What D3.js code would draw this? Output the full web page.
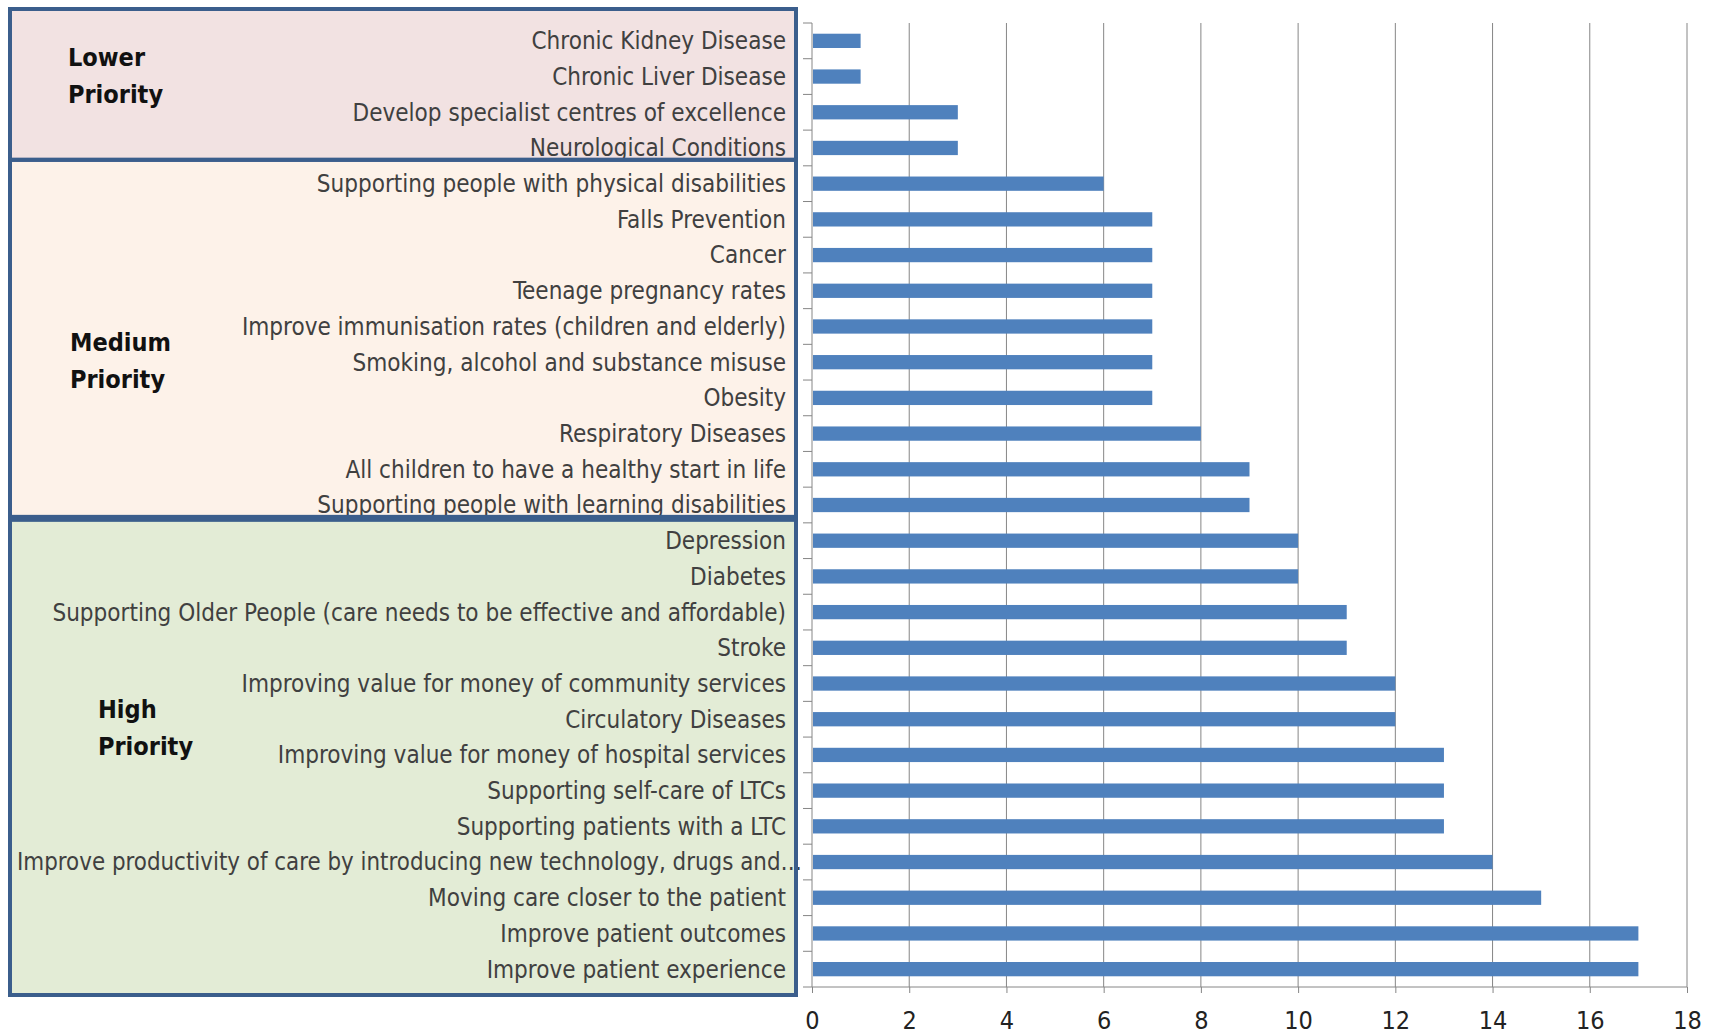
<!DOCTYPE html>
<html>
<head>
  <meta charset="utf-8">
  <title>Priorities</title>
  <script src="https://d3js.org/d3.v7.min.js"></script>
  <style>
    body { margin: 0; background: #fff; }
    text { font-family: "Liberation Sans Narrow", "DejaVu Sans Condensed", "Open Sans", sans-serif; }
  </style>
</head>
<body>
  <div id="chart"></div>
  <script>
    // categories, top to bottom
    const categories = [
      "Chronic Kidney Disease",
      "Chronic Liver Disease",
      "Develop specialist centres of excellence",
      "Neurological Conditions",
      "Supporting people with physical disabilities",
      "Falls Prevention",
      "Cancer",
      "Teenage pregnancy rates",
      "Improve immunisation rates (children and elderly)",
      "Smoking, alcohol and substance misuse",
      "Obesity",
      "Respiratory Diseases",
      "All children to have a healthy start in life",
      "Supporting people with learning disabilities",
      "Depression",
      "Diabetes",
      "Supporting Older People (care needs to be effective and affordable)",
      "Stroke",
      "Improving value for money of community services",
      "Circulatory Diseases",
      "Improving value for money of hospital services",
      "Supporting self-care of LTCs",
      "Supporting patients with a LTC",
      "Improve productivity of care by introducing new technology, drugs and\u2026",
      "Moving care closer to the patient",
      "Improve patient outcomes",
      "Improve patient experience"
    ];
    const values = [1, 1, 3, 3, 6, 7, 7, 7, 7, 7, 7, 8, 9, 9, 10, 10, 11, 11, 12, 12, 13, 13, 13, 14, 15, 17, 17];
    const xTicks = [0, 2, 4, 6, 8, 10, 12, 14, 16, 18];

    // priority groups: label lines and number of categories in each
    const groupNames = [["Lower", "Priority"], ["Medium", "Priority"], ["High", "Priority"]];
    const groupSizes = [4, 10, 13];
    const groupFills = ["#f2e2e2", "#fdf2e9", "#e3ecd6"];

    const W = 1710, H = 1034;
    const margin = {top: 23, right: 23, bottom: 47, left: 812};

    const svg = d3.select("#chart").append("svg")
      .attr("width", W).attr("height", H);

    const x = d3.scaleLinear().domain([0, 18]).range([margin.left, W - margin.right]);
    const y = d3.scaleBand().domain(categories)
      .range([margin.top, H - margin.bottom]).paddingInner(0.6).paddingOuter(0.3);
    const step = y.step();
    const bandTop = i => margin.top + i * step;

    // group boxes (fill layer)
    const boxes = [];
    let start = 0;
    groupSizes.forEach((n, g) => {
      const top = g === 0 ? 9 : bandTop(start) - 6 + (g === 2 ? 3 : 0);
      const bottom = g === groupSizes.length - 1 ? 995 : bandTop(start + n) - 6;
      boxes.push({g, top, bottom, start, n});
      start += n;
    });

    svg.append("g").selectAll("rect").data(boxes).join("rect")
      .attr("x", 10).attr("y", d => d.top)
      .attr("width", 786).attr("height", d => d.bottom - d.top)
      .attr("fill", d => groupFills[d.g]);

    // gridlines
    svg.append("g").selectAll("line").data(xTicks.slice(1)).join("line")
      .attr("x1", d => x(d)).attr("x2", d => x(d))
      .attr("y1", margin.top).attr("y2", H - margin.bottom)
      .attr("stroke", "#868686").attr("stroke-width", 1);

    // bars
    svg.append("g").selectAll("rect").data(categories).join("rect")
      .attr("x", x(0) + 1)
      .attr("y", d => y(d))
      .attr("width", (d, i) => x(values[i]) - x(0) - 1)
      .attr("height", y.bandwidth())
      .attr("fill", "#4f81bd");

    // y axis: line + boundary ticks
    const yAxis = svg.append("g");
    yAxis.append("line")
      .attr("x1", x(0)).attr("x2", x(0))
      .attr("y1", margin.top).attr("y2", H - margin.bottom)
      .attr("stroke", "#868686");
    yAxis.selectAll("line.tk").data(d3.range(categories.length + 1)).join("line")
      .attr("class", "tk")
      .attr("x1", x(0) - 9).attr("x2", x(0))
      .attr("y1", i => bandTop(i)).attr("y2", i => bandTop(i))
      .attr("stroke", "#868686");

    // category labels
    const labels = svg.append("g").selectAll("text").data(categories).join("text")
      .attr("x", 786)
      .attr("y", d => y(d) + y.bandwidth() / 2)
      .attr("dy", "0.35em")
      .attr("text-anchor", "end")
      .attr("fill", "#404040")
      .style("font-size", "24px")
      .text(d => d);

    // fit font size so the longest full label matches the reference width
    const ref = labels.filter(d => d.startsWith("Supporting Older")).node();
    const w = ref.getComputedTextLength();
    const fs = Math.min(30, 24 * 734 / w);
    labels.style("font-size", fs + "px");

    // the truncated label runs a little past the others, from x=17 to x=802
    labels.filter(d => d.endsWith("\u2026"))
      .attr("x", 802)
      .attr("textLength", 785)
      .attr("lengthAdjust", "spacingAndGlyphs");

    // x axis
    const xAxis = svg.append("g").attr("transform", `translate(0,${H - margin.bottom})`)
      .call(d3.axisBottom(x).tickValues(xTicks).tickSize(6).tickPadding(18).tickFormat(d3.format("d")));
    xAxis.select(".domain").attr("stroke", "#868686").attr("d", `M${x(0)},0H${x(18)}`);
    xAxis.selectAll(".tick line").attr("stroke", "#868686");
    xAxis.selectAll(".tick text").attr("fill", "#222").style("font-size", (fs + 1) + "px")
      .style("font-family", "\"Liberation Sans Narrow\", \"DejaVu Sans Condensed\", sans-serif");

    // box borders on top
    svg.append("g").selectAll("rect").data(boxes).join("rect")
      .attr("x", 10).attr("y", d => d.top)
      .attr("width", 786).attr("height", d => d.bottom - d.top)
      .attr("fill", "none")
      .attr("stroke", "#3b5e8c").attr("stroke-width", 4);

    // priority labels
    const groupLabelPos = [[68, 57], [70, 342], [98, 709]];
    boxes.forEach(b => {
      const [lx, ly] = groupLabelPos[b.g];
      svg.append("text")
        .attr("x", lx).attr("y", ly)
        .attr("fill", "#111")
        .style("font-weight", "bold")
        .style("font-size", (fs + 1) + "px")
        .selectAll("tspan").data(groupNames[b.g]).join("tspan")
          .attr("x", lx)
          .attr("dy", (d, i) => i === 0 ? "0.35em" : "1.5em")
          .text(d => d);
    });
  </script>
</body>
</html>
